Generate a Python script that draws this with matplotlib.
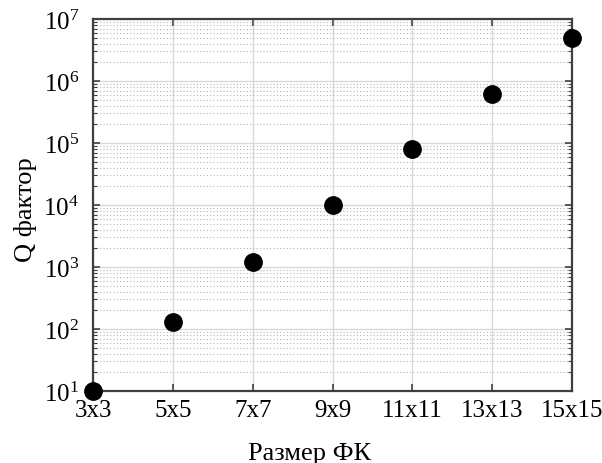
import matplotlib
matplotlib.use("Agg")
import matplotlib.pyplot as plt
from matplotlib.ticker import LogLocator, NullFormatter

categories = ["3x3", "5x5", "7x7", "9x9", "11x11", "13x13", "15x15"]
q_values = [10, 131, 1200, 1.0e4, 8.0e4, 6.2e5, 4.9e6]
y_ticklabels = ["$10^{1}$", "$10^{2}$", "$10^{3}$", "$10^{4}$", "$10^{5}$", "$10^{6}$", "$10^{7}$"]

plt.rcParams['font.family'] = ['Liberation Serif', 'DejaVu Serif']
plt.rcParams['mathtext.fontset'] = 'custom'
plt.rcParams['mathtext.rm'] = 'Liberation Serif'
plt.rcParams['mathtext.it'] = 'Liberation Serif'

fig = plt.figure(figsize=(6.02, 4.64), dpi=100)
ax = fig.add_axes([93/602, 1 - 392/464, (572-93)/602, (392-20)/464])

x = list(range(len(categories)))
ax.plot(x, q_values, 'o', color='black', markersize=12.5, clip_on=False, zorder=5)

ax.set_yscale('log')
ax.set_ylim(10, 1e7)
ax.set_xlim(0, len(categories) - 1)
ax.set_xticks(x)
ax.set_xticklabels(categories)
ax.set_yticks([10**k for k in range(1, 8)])
ax.set_yticklabels(y_ticklabels)
ax.yaxis.set_minor_locator(LogLocator(base=10, subs=range(2, 10), numticks=20))
ax.yaxis.set_minor_formatter(NullFormatter())

ax.grid(True, which='major', color='#d9d9d9', linewidth=1.0, linestyle='-')
ax.grid(True, which='minor', axis='y', color='#b5b5b5', linewidth=0.8, linestyle=(0, (1, 2)))
ax.set_axisbelow(True)

for s in ax.spines.values():
    s.set_color('#404040')
    s.set_linewidth(1.6)

ax.tick_params(which='both', direction='in', top=True, right=True, colors='#404040',
               labelcolor='black', labelsize=18)
ax.tick_params(which='major', length=5, width=1.2)
ax.tick_params(which='minor', length=3, width=0.8)
ax.tick_params(axis='x', which='major', pad=6)
ax.tick_params(axis='y', which='major', pad=10)

ax.set_xlabel("Размер ФК", fontsize=19)
ax.xaxis.set_label_coords((310 - 93) / 479, (392 - 443) / 372)
ax.set_ylabel("Q фактор", fontsize=19)
ax.yaxis.set_label_coords((37 - 93) / 479, 0.49)

fig.savefig("out.png", dpi=100)
